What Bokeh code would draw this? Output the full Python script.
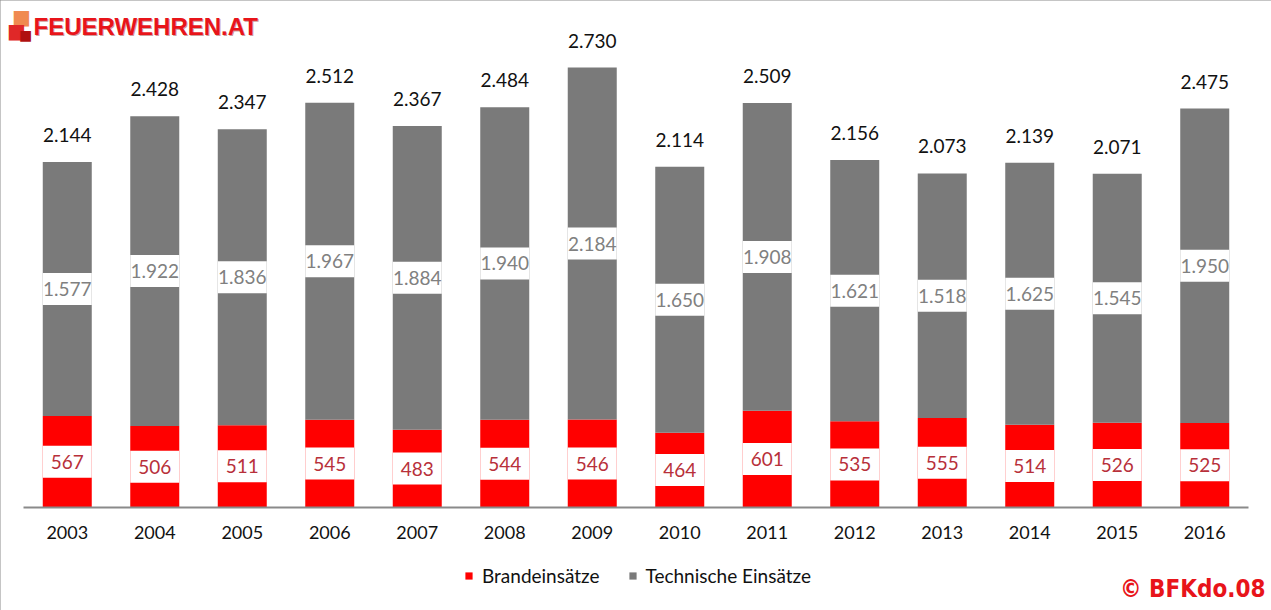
from bokeh.plotting import figure
from bokeh.models import (ColumnDataSource, Range1d, FactorRange, Legend, LegendItem, Label,
                          CategoricalAxis)
from bokeh.core.properties import value
from bokeh.embed import file_html
from bokeh.resources import INLINE

years = ["2003", "2004", "2005", "2006", "2007", "2008", "2009",
         "2010", "2011", "2012", "2013", "2014", "2015", "2016"]
brand = [567, 506, 511, 545, 483, 544, 546, 464, 601, 535, 555, 514, 526, 525]
technisch = [1577, 1922, 1836, 1967, 1884, 1940, 2184, 1650, 1908, 1621, 1518, 1625, 1545, 1950]
series_names = ["Brandeinsätze", "Technische Einsätze"]


def fmt(v):
    return f"{v:,}".replace(",", ".")


total = [b + t for b, t in zip(brand, technisch)]
src = ColumnDataSource(dict(
    x=years,
    b0=[0] * len(years), b1=brand,
    t0=brand, t1=total,
    bmid=[b / 2 for b in brand],
    tmid=[b + t / 2 for b, t in zip(brand, technisch)],
    blab=[fmt(v) for v in brand],
    tlab=[fmt(v) for v in technisch],
    tot=total,
    totlab=[fmt(v) for v in total],
))

FONT = "Lato"
RED = "#FF0000"
GRAY = "#7A7A7A"

WIDTH, HEIGHT = 1271, 610
BASE = 507                     # pixel row of the zero line
PX_PER_UNIT = 440 / 2730       # vertical scale
y_top = BASE / PX_PER_UNIT
y_bot = -(HEIGHT - BASE) / PX_PER_UNIT

p = figure(width=WIDTH, height=HEIGHT,
           x_range=FactorRange(*years, range_padding=0.263, range_padding_units="absolute"),
           y_range=Range1d(y_bot, y_top), output_backend="svg", toolbar_location=None,
           x_axis_location=None, y_axis_location=None, min_border=0,
           min_border_left=0, min_border_right=0, min_border_top=0, min_border_bottom=0)
p.styles = {"outline": "2px solid #8a8a8a", "outline-offset": "-2px"}
p.outline_line_color = None
p.background_fill_color = "white"
p.border_fill_color = "white"
p.xgrid.visible = False
p.ygrid.visible = False

W = 0.56
r_b = p.vbar(x="x", bottom="b0", top="b1", width=W, source=src, fill_color=RED, line_color=None)
r_t = p.vbar(x="x", bottom="t0", top="t1", width=W, source=src, fill_color=GRAY, line_color=None)

# label boxes
p.rect(x="x", y="bmid", width=W, height=32, height_units="screen", source=src,
       fill_color="white", line_color=None)
p.rect(x="x", y="tmid", width=W, height=32, height_units="screen", source=src,
       fill_color="white", line_color=None)
p.text(x="x", y="bmid", text="blab", source=src, text_align="center", text_baseline="middle",
       text_font=value(FONT), text_font_size="19px", text_color="#B8303A")
p.text(x="x", y="tmid", text="tlab", source=src, text_align="center", text_baseline="middle",
       text_font=value(FONT), text_font_size="19px", text_color="#808080")
p.text(x="x", y="tot", text="totlab", source=src, text_align="center", text_baseline="middle",
       y_offset=-27, text_font=value(FONT), text_font_size="19px", text_color="#111111")

ax = CategoricalAxis(fixed_location=0)
ax.bounds = (0, len(years))
ax.axis_line_color = "#8a8a8a"
ax.axis_line_width = 2
ax.major_tick_line_color = None
ax.minor_tick_line_color = None
ax.major_tick_out = 0
ax.major_tick_in = 0
ax.major_label_standoff = 18
ax.major_label_text_font = FONT
ax.major_label_text_font_size = "18px"
ax.major_label_text_color = "#111111"
p.add_layout(ax, "below")

legend = Legend(items=[LegendItem(label=series_names[0], renderers=[r_b]),
                       LegendItem(label=series_names[1], renderers=[r_t])],
                location=(464, 23), orientation="horizontal",
                glyph_width=9, glyph_height=9, label_standoff=9, spacing=28,
                label_height=20, padding=0, margin=0, border_line_color=None,
                background_fill_alpha=0,
                label_text_font=FONT, label_text_font_size="19px", label_text_color="#111111")
p.add_layout(legend, "center")

# logo (screen units measured from the bottom-left corner)
for (lx, ly, col, sz) in [(21, 16, "#F08A50", "20px"), (16, 30, "#E02828", "20px"),
                          (25, 34, "#B01010", "14px")]:
    p.add_layout(Label(x=lx, y=HEIGHT - ly, x_units="screen", y_units="screen", text="■",
                       text_font="DejaVu Sans", text_font_size=sz, text_color=col,
                       text_align="center", text_baseline="middle"))
p.add_layout(Label(x=34, y=HEIGHT - 27, x_units="screen", y_units="screen",
                   text="FEUERWEHREN.AT", text_font="Liberation Sans", text_font_style="bold",
                   text_font_size="24px", text_color="#800000", text_alpha=0.4,
                   text_baseline="middle"))
p.add_layout(Label(x=33, y=HEIGHT - 26, x_units="screen", y_units="screen",
                   text="FEUERWEHREN.AT", text_font="Liberation Sans", text_font_style="bold",
                   text_font_size="24px", text_color="#E8141A", text_baseline="middle"))
p.add_layout(Label(x=1265, y=HEIGHT - 588, x_units="screen", y_units="screen",
                   text="© BFKdo.08",
                   text_font="'DejaVu Sans Condensed', sans-serif",
                   text_font_style="bold", text_font_size="24px", text_color="#E8141A",
                   text_align="right", text_baseline="middle"))

open("out.html", "w").write(file_html(p, INLINE))
